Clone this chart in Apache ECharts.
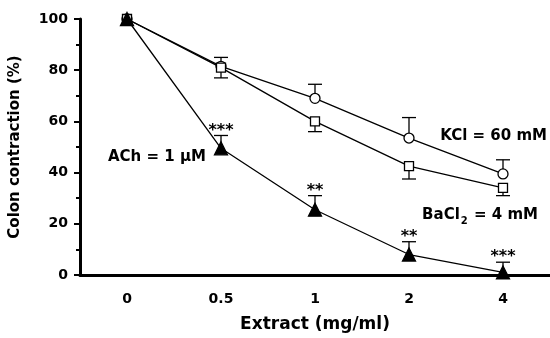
<!DOCTYPE html>
<html><head><meta charset="utf-8">
<script src="https://cdn.jsdelivr.net/npm/echarts@6/dist/echarts.min.js"></script>
<style>html,body{margin:0;padding:0;background:#fff}#c{width:550px;height:338px}</style>
</head><body><div id="c"></div>
<script>
var categories = ['0', '0.5', '1', '2', '4'];
var yTicks = [0, 20, 40, 60, 80, 100];
var achMean = [100, 49.5, 25.5, 8, 1];
var achErr = [0, 5, 5.5, 5, 4];
var achStars = ['', '***', '**', '**', '***'];
var kclMean = [100, 81.5, 69, 53.5, 39.5];
var kclErr = [0, 3.5, 5.5, 8, 5.5];
var bacMean = [100, 81, 60, 42.5, 34];
var bacErr = [0, 4, 4, 5, 3];

var FONT = '"DejaVu Sans", sans-serif';
var chart = echarts.init(document.getElementById('c'), null, {renderer: 'canvas'});

function errSeries(name, mean, err, dir, stars) {
  return {
    type: 'custom', name: name, z: 1,
    data: mean.map(function (m, i) { return [i, m, err[i]]; }),
    renderItem: function (params, api) {
      var i = api.value(0), m = api.value(1), e = api.value(2);
      var children = [];
      if (e > 0) {
        var p0 = api.coord([i, m]);
        var p1 = api.coord([i, m + dir * e]);
        var hw = 7;
        children.push({type: 'line', shape: {x1: p0[0], y1: p0[1], x2: p1[0], y2: p1[1]}, style: {stroke: '#000', lineWidth: 1.3}});
        children.push({type: 'line', shape: {x1: p1[0] - hw, y1: p1[1], x2: p1[0] + hw, y2: p1[1]}, style: {stroke: '#000', lineWidth: 1.3}});
        if (stars && stars[i]) {
          children.push({type: 'text', style: {text: stars[i], x: p1[0], y: p1[1] + 3, align: 'center', verticalAlign: 'bottom', font: 'bold 16px ' + FONT, fill: '#000'}});
        }
      }
      return {type: 'group', children: children};
    }
  };
}

function lineSeries(name, mean, symbol, size, fill) {
  return {
    type: 'line', name: name, data: mean, z: 3,
    symbol: symbol, symbolSize: size, showAllSymbol: true,
    lineStyle: {color: '#000', width: 1.3},
    itemStyle: {color: fill, borderColor: '#000', borderWidth: 1.3},
    animation: false
  };
}

var lbl = {color: '#000', fontWeight: 'bold', fontSize: 14, fontFamily: FONT};
var option = {
  animation: false,
  backgroundColor: '#fff',
  grid: {left: 80, right: 0, top: 19, bottom: 59, containLabel: false},
  xAxis: {
    type: 'category', data: categories, boundaryGap: true,
    axisLine: {lineStyle: {color: '#000', width: 3}},
    axisTick: {show: false},
    axisLabel: Object.assign({margin: 17}, lbl),
    name: 'Extract (mg/ml)', nameLocation: 'middle', nameGap: 41,
    nameTextStyle: {color: '#000', fontWeight: 'bold', fontSize: 17, fontFamily: FONT}
  },
  yAxis: {
    type: 'value', min: yTicks[0], max: yTicks[yTicks.length - 1], interval: 20,
    axisLine: {show: true, lineStyle: {color: '#000', width: 3}},
    axisTick: {show: true, length: 6, lineStyle: {color: '#000', width: 2}},
    minorTick: {show: true, splitNumber: 2, length: 4, lineStyle: {color: '#000', width: 2}},
    splitLine: {show: false},
    axisLabel: Object.assign({margin: 12}, lbl),
    name: 'Colon contraction (%)', nameLocation: 'middle', nameGap: 57, nameRotate: 90,
    nameTextStyle: {color: '#000', fontWeight: 'bold', fontSize: 15, fontFamily: FONT}
  },
  graphic: [
    {type: 'text', left: 108, top: 150, style: {text: 'ACh = 1 μM', font: 'bold 15px ' + FONT, fill: '#000'}},
    {type: 'text', right: 3, top: 129, style: {text: 'KCl = 60 mM', font: 'bold 15px ' + FONT, fill: '#000'}},
    {type: 'text', right: 12, top: 208, style: {
      text: '{n|BaCl}{s|2}{n| = 4 mM}',
      rich: {
        n: {font: 'bold 15px ' + FONT, fill: '#000', lineHeight: 22, verticalAlign: 'middle'},
        s: {font: 'bold 10px ' + FONT, fill: '#000', lineHeight: 22, verticalAlign: 'bottom', padding: [0, 1, 0, 1]}
      }
    }}
  ],
  series: [
    errSeries('achErr', achMean, achErr, 1, achStars),
    errSeries('kclErr', kclMean, kclErr, 1, null),
    errSeries('bacErr', bacMean, bacErr, -1, null),
    lineSeries('KCl', kclMean, 'circle', 10, '#fff'),
    lineSeries('BaCl2', bacMean, 'rect', 9, '#fff'),
    lineSeries('ACh', achMean, 'triangle', 13, '#000')
  ]
};
chart.setOption(option);
</script></body></html>
